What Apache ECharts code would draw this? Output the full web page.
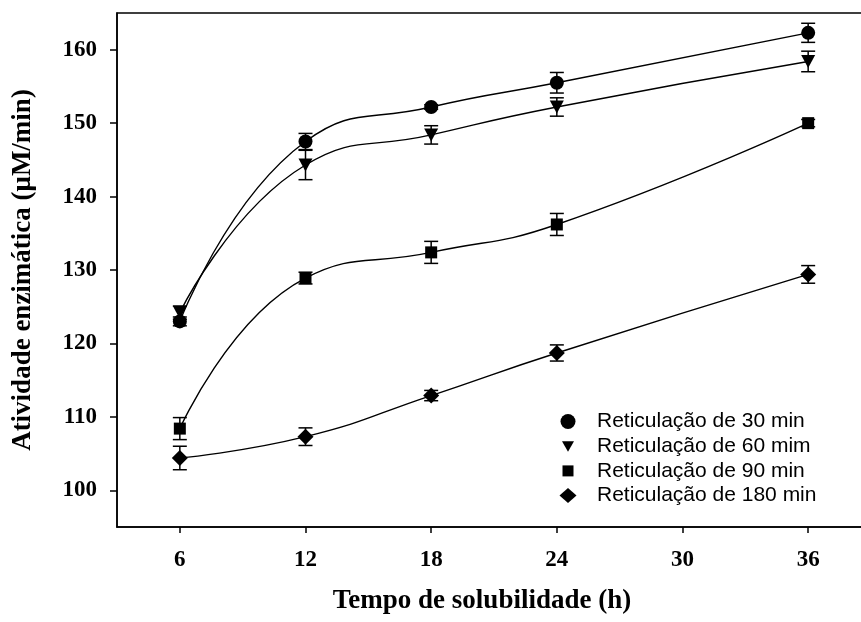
<!DOCTYPE html>
<html><head><meta charset="utf-8">
<script src="https://cdn.jsdelivr.net/npm/echarts@6/dist/echarts.min.js"></script>
<style>html,body{margin:0;padding:0;background:#fff}#c{width:861px;height:622px}</style>
</head><body><div id="c"></div>
<script>
// ---- data ----
const hours = [6, 12, 18, 24, 36];
const xTicks = [6, 12, 18, 24, 30, 36];
const yTicks = [100, 110, 120, 130, 140, 150, 160];
const seriesNames = ['Reticulação de 30 min', 'Reticulação de 60 mim', 'Reticulação de 90 min', 'Reticulação de 180 min'];
const act30 = [123.0, 147.5, 152.2, 155.5, 162.3];
const err30 = [0.6, 1.1, 0.3, 1.4, 1.3];
const act60 = [124.2, 144.3, 148.4, 152.2, 158.4];
const err60 = [0.9, 2.0, 1.25, 1.25, 1.4];
const act90 = [108.4, 128.9, 132.4, 136.2, 150.0];
const err90 = [1.5, 0.8, 1.5, 1.5, 0.5];
const act180 = [104.4, 107.3, 112.9, 118.7, 129.4];
const err180 = [1.6, 1.2, 0.7, 1.1, 1.2];

const values = [act30, act60, act90, act180];
const errors = [err30, err60, err90, err180];
const symbols = [
  {symbol: 'circle', size: 14, rotate: 0},
  {symbol: 'triangle', size: [14, 13], rotate: 180},
  {symbol: 'rect', size: 12, rotate: 0},
  {symbol: 'diamond', size: [16, 16], rotate: 0}
];

const serif = '"Liberation Serif", "Times New Roman", serif';
const sans = '"Liberation Sans", Arial, sans-serif';

function renderErr(params, api) {
  const x = api.value(0), y = api.value(1), e = api.value(2);
  const t = api.coord([x, y + e]), b = api.coord([x, y - e]);
  const hw = 7;
  const st = {stroke: '#000', lineWidth: 1.5, fill: null};
  return {type: 'group', children: [
    {type: 'line', shape: {x1: t[0], y1: t[1], x2: b[0], y2: b[1]}, style: st},
    {type: 'line', shape: {x1: t[0] - hw, y1: t[1], x2: t[0] + hw, y2: t[1]}, style: st},
    {type: 'line', shape: {x1: b[0] - hw, y1: b[1], x2: b[0] + hw, y2: b[1]}, style: st}
  ]};
}

const series = [];
values.forEach((vals, i) => {
  series.push({
    type: 'custom', name: seriesNames[i] + ' err', renderItem: renderErr, z: 2,
    encode: {x: 0, y: 1},
    data: hours.map((h, k) => [h, vals[k], errors[i][k]]),
    silent: true
  });
  series.push({
    type: 'line', name: seriesNames[i], smooth: 0.5, z: 3,
    data: hours.map((h, k) => [h, vals[k]]),
    symbol: symbols[i].symbol, symbolSize: symbols[i].size, symbolRotate: symbols[i].rotate,
    showAllSymbol: true,
    lineStyle: {color: '#000', width: 1.4},
    itemStyle: {color: '#000', borderWidth: 0},
    animation: false
  });
});

// legend (graphic)
const legendShapes = [
  (cx, cy) => ({type: 'circle', shape: {cx: cx, cy: cy, r: 7.5}, style: {fill: '#000'}}),
  (cx, cy) => ({type: 'polygon', shape: {points: [[cx - 6, cy - 5], [cx + 6, cy - 5], [cx, cy + 5.5]]}, style: {fill: '#000'}}),
  (cx, cy) => ({type: 'rect', shape: {x: cx - 5.5, y: cy - 5.5, width: 11, height: 11}, style: {fill: '#000'}}),
  (cx, cy) => ({type: 'polygon', shape: {points: [[cx, cy - 7.5], [cx + 8.5, cy], [cx, cy + 7.5], [cx - 8.5, cy]]}, style: {fill: '#000'}})
];
const graphic = [];
seriesNames.forEach((name, i) => {
  const cy = 421.5 + i * 24.7;
  graphic.push(legendShapes[i](568, cy));
  graphic.push({type: 'text', x: 597, y: cy, style: {text: name, font: '21px ' + sans, fill: '#000', textVerticalAlign: 'middle', textAlign: 'left'}});
});
graphic.push({type: 'text', x: 482, y: 601, style: {text: 'Tempo de solubilidade (h)', font: 'bold 27px ' + serif, fill: '#000', textAlign: 'center', textVerticalAlign: 'middle'}});
graphic.push({type: 'text', x: 23, y: 270, rotation: Math.PI / 2, style: {text: 'Atividade enzimática (μM/min)', font: 'bold 27px ' + serif, fill: '#000', textAlign: 'center', textVerticalAlign: 'middle'}});

const chart = echarts.init(document.getElementById('c'), null, {renderer: 'canvas'});
chart.setOption({
  animation: false,
  backgroundColor: '#fff',
  grid: {left: 117, top: 13, width: 754, height: 514, outerBoundsMode: 'none', containLabel: false, show: true, borderColor: '#000', borderWidth: 1.5, backgroundColor: 'transparent'},
  xAxis: {
    type: 'value', min: 3, max: 39,
    axisLine: {show: true, lineStyle: {color: '#000', width: 1.5}},
    axisTick: {show: true, length: 6, lineStyle: {color: '#000', width: 1.5}, customValues: xTicks},
    axisLabel: {customValues: xTicks, color: '#000', fontFamily: serif, fontWeight: 'bold', fontSize: 23, margin: 22},
    splitLine: {show: false}
  },
  yAxis: {
    type: 'value', min: 95, max: 165,
    axisLine: {show: true, lineStyle: {color: '#000', width: 1.5}},
    axisTick: {show: true, length: 7, lineStyle: {color: '#000', width: 1.5}, customValues: yTicks},
    axisLabel: {customValues: yTicks, color: '#000', fontFamily: serif, fontWeight: 'bold', fontSize: 23, margin: 20},
    splitLine: {show: false}
  },
  graphic: graphic,
  series: series
});
</script>
</body></html>
